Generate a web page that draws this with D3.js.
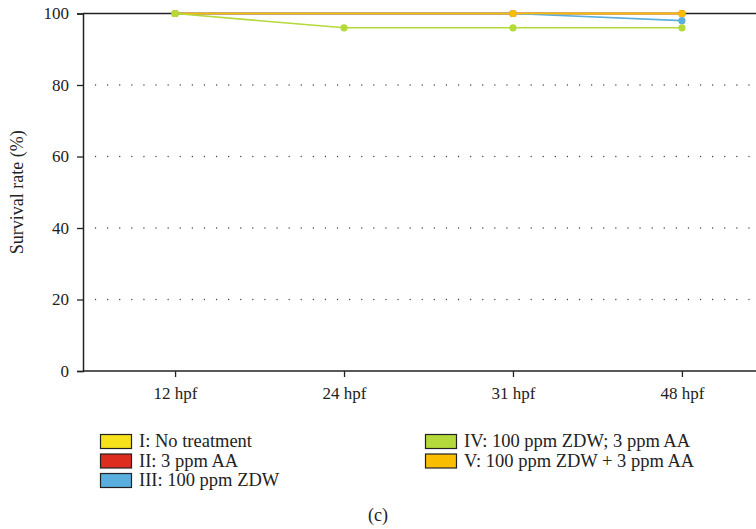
<!DOCTYPE html>
<html>
<head>
<meta charset="utf-8">
<script src="https://cdn.jsdelivr.net/npm/d3@7"></script>
<style>
    body { margin: 0; background: #fff; }
    svg { display: block; font-family: "Liberation Serif", "DejaVu Serif", serif; }
</style>
</head>
<body>
<div id="chart"></div>
<script>
var stages = ["12 hpf", "24 hpf", "31 hpf", "48 hpf"];
var yTicks = [0, 20, 40, 60, 80, 100];
var groupNames = ["I: No treatment", "II: 3 ppm AA", "III: 100 ppm ZDW",
    "IV: 100 ppm ZDW; 3 ppm AA", "V: 100 ppm ZDW + 3 ppm AA"];
var groupColors = ["#f6e11b", "#dc2d1f", "#5aafdf", "#b3d93a", "#fbbd00"];
// null = no marker shown at that stage
var noTreatment = [100, null, 100, 100];
var aaOnly = [100, null, 100, 100];
var zdwOnly = [100, null, 100, 98];
var zdwThenAa = [100, 96, 96, 96];
var zdwPlusAa = [100, null, 100, 100];
var seriesValues = [noTreatment, aaOnly, zdwOnly, zdwThenAa, zdwPlusAa];
var drawOrder = [0, 1, 2, 4, 3];

(function() {
    var width = 756, height = 529;
    var left = 83, top = 13.5, bottom = 371;

    var svg = d3.select("#chart").append("svg")
        .attr("width", width)
        .attr("height", height);

    var x = d3.scalePoint().domain(stages).range([left, 774]).padding(0.545);
    var y = d3.scaleLinear().domain([0, 100]).range([bottom, top]);

    // dotted grid
    svg.append("g").selectAll("line")
        .data(yTicks.filter(function(d) { return d > 0 && d < 100; }))
        .enter().append("line")
        .attr("x1", left + 12.5).attr("x2", width)
        .attr("y1", function(d) { return y(d); })
        .attr("y2", function(d) { return y(d); })
        .attr("stroke", "#444")
        .attr("stroke-width", 1.3)
        .attr("stroke-linecap", "round")
        .attr("stroke-dasharray", "0.1,12");

    // top frame line
    svg.append("line")
        .attr("x1", left).attr("x2", width)
        .attr("y1", y(100)).attr("y2", y(100))
        .attr("stroke", "#222").attr("stroke-width", 1.5);

    var yAxis = svg.append("g")
        .attr("transform", "translate(" + left + ",0)")
        .call(d3.axisLeft(y).tickValues(yTicks).tickSize(6).tickPadding(8));
    var xAxis = svg.append("g")
        .attr("transform", "translate(0," + bottom + ")")
        .call(d3.axisBottom(x).tickSize(6).tickPadding(10));

    [yAxis, xAxis].forEach(function(ax) {
        ax.attr("font-family", null);
        ax.select(".domain").attr("stroke", "#222").attr("stroke-width", 1.5);
        ax.selectAll(".tick line").attr("stroke", "#222").attr("stroke-width", 1.3);
        ax.selectAll("text")
            .attr("fill", "#222")
            .style("font-family", "Liberation Serif")
            .style("font-size", "17px");
    });
    xAxis.select(".domain").attr("d", "M" + left + ",0H" + width);

    svg.append("text")
        .attr("transform", "translate(23," + ((top + bottom) / 2) + ") rotate(-90)")
        .attr("text-anchor", "middle")
        .attr("fill", "#222")
        .style("font-size", "18px")
        .text("Survival rate (%)");

    var line = d3.line()
        .x(function(d) { return x(d.stage); })
        .y(function(d) { return y(d.value); });

    drawOrder.forEach(function(k) {
        var pts = seriesValues[k]
            .map(function(v, i) { return { stage: stages[i], value: v }; })
            .filter(function(d) { return d.value !== null; });
        var g = svg.append("g");
        g.append("path")
            .datum(pts)
            .attr("d", line)
            .attr("fill", "none")
            .attr("stroke", groupColors[k])
            .attr("stroke-width", 1.6);
        g.selectAll("circle")
            .data(pts)
            .enter().append("circle")
            .attr("cx", function(d) { return x(d.stage); })
            .attr("cy", function(d) { return y(d.value); })
            .attr("r", 3.6)
            .attr("fill", groupColors[k]);
    });

    // legend
    var legendPos = [[100, 434], [100, 453.5], [100, 473], [425, 434], [425, 453.5]];
    var legend = svg.append("g").selectAll("g")
        .data(groupNames)
        .enter().append("g")
        .attr("transform", function(d, i) {
            return "translate(" + legendPos[i][0] + "," + legendPos[i][1] + ")";
        });
    legend.append("rect")
        .attr("x", 0.5).attr("y", 0.5)
        .attr("width", 31).attr("height", 14)
        .attr("fill", function(d, i) { return groupColors[i]; })
        .attr("stroke", "#222").attr("stroke-width", 1.2);
    legend.append("text")
        .attr("x", 39).attr("y", 13)
        .attr("fill", "#222")
        .style("font-size", "18.5px")
        .text(function(d) { return d; });

    svg.append("text")
        .attr("x", 378).attr("y", 521)
        .attr("text-anchor", "middle")
        .attr("fill", "#222")
        .style("font-size", "18px")
        .text("(c)");
})();
</script>
</body>
</html>
